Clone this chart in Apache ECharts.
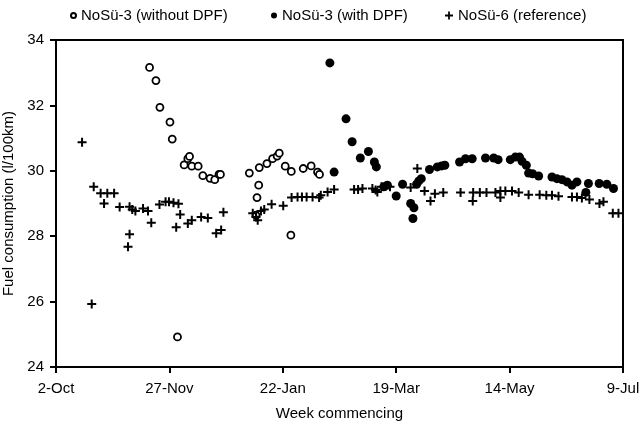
<!DOCTYPE html>
<html lang="en">
<head>
<meta charset="UTF-8">
<title>Fuel consumption</title>
<style>
  * { margin: 0; padding: 0; }
  body { background: #fff; }
  #main { width: 640px; height: 426px; }
</style>
</head>
<body>
<div id="main"></div>
<script src="https://cdn.jsdelivr.net/npm/echarts@6/dist/echarts.min.js"></script>
<script>
// x = weeks after 2-Oct, y = l/100km
var xLabels = ['2-Oct', '27-Nov', '22-Jan', '19-Mar', '14-May', '9-Jul'];

var withoutDpf = [
  [6.6, 33.16], [7.05, 32.76], [7.33, 31.94], [8.04, 31.49], [8.2, 30.97], [8.57, 24.92],
  [9.04, 30.18], [9.3, 30.37], [9.42, 30.44], [9.58, 30.14], [10.03, 30.14], [10.36, 29.85],
  [10.87, 29.77], [11.2, 29.73], [11.5, 29.89], [11.6, 29.89], [13.64, 29.93], [14.11, 28.64],
  [14.18, 29.18], [14.3, 29.56], [14.34, 30.1], [14.88, 30.22], [15.28, 30.37], [15.6, 30.45],
  [15.75, 30.54], [16.17, 30.14], [16.57, 28.03], [16.6, 29.98], [17.44, 30.07], [18.0, 30.15],
  [18.45, 29.96], [18.59, 29.89]
];

var withDpf = [
  [19.32, 33.3], [19.62, 29.96], [20.46, 31.59], [20.89, 30.89], [21.47, 30.39], [22.04, 30.59],
  [22.46, 30.27], [22.6, 30.12], [23.12, 29.51], [23.38, 29.56], [24.0, 29.23], [24.45, 29.59],
  [25.02, 29.0], [25.18, 28.54], [25.25, 28.87], [25.44, 29.59], [25.6, 29.69], [25.77, 29.76],
  [26.35, 30.04], [26.9, 30.12], [27.2, 30.15], [27.43, 30.17], [28.47, 30.27], [28.89, 30.37],
  [29.36, 30.37], [30.3, 30.39], [30.88, 30.39], [31.19, 30.34], [32.05, 30.34], [32.4, 30.42],
  [32.7, 30.42], [32.88, 30.29], [33.18, 30.17], [33.34, 29.93], [33.62, 29.91], [34.05, 29.84],
  [34.99, 29.81], [35.34, 29.76], [35.69, 29.73], [36.05, 29.66], [36.4, 29.56], [36.75, 29.66],
  [37.38, 29.34], [37.56, 29.61], [38.32, 29.61], [38.86, 29.59], [39.33, 29.46]
];

var reference = [
  [1.84, 30.87], [2.52, 25.93], [2.66, 29.51], [3.15, 29.31], [3.39, 29.0], [3.62, 29.31],
  [4.1, 29.31], [4.49, 28.89], [5.08, 27.68], [5.19, 28.06], [5.19, 28.9], [5.38, 28.82],
  [5.6, 28.77], [6.14, 28.85], [6.49, 28.77], [6.72, 28.41], [7.3, 28.97], [7.73, 29.05],
  [7.97, 29.05], [8.29, 29.02], [8.48, 28.27], [8.64, 28.99], [8.76, 28.66], [9.3, 28.39],
  [9.58, 28.49], [10.24, 28.59], [10.71, 28.56], [11.3, 28.09], [11.65, 28.19], [11.81, 28.73],
  [13.88, 28.7], [14.11, 28.59], [14.23, 28.49], [14.46, 28.77], [14.69, 28.82], [15.21, 28.98],
  [16.03, 28.93], [16.62, 29.18], [17.04, 29.2], [17.35, 29.2], [17.68, 29.2], [18.1, 29.2],
  [18.56, 29.18], [18.68, 29.25], [19.16, 29.35], [19.62, 29.43], [21.03, 29.43], [21.31, 29.43],
  [21.62, 29.46], [22.32, 29.46], [22.55, 29.41], [22.67, 29.35], [22.96, 29.51], [23.26, 29.53],
  [23.56, 29.51], [25.02, 29.49], [25.49, 30.07], [26.0, 29.38], [26.42, 29.08], [26.73, 29.3],
  [27.32, 29.34], [28.54, 29.34], [29.4, 29.08], [29.43, 29.34], [29.9, 29.34], [30.37, 29.34],
  [31.0, 29.34], [31.35, 29.38], [31.35, 29.18], [31.7, 29.38], [32.17, 29.38], [32.64, 29.34],
  [33.34, 29.27], [34.12, 29.27], [34.59, 29.25], [34.99, 29.25], [35.45, 29.22], [36.4, 29.2],
  [36.75, 29.2], [37.1, 29.17], [37.63, 29.12], [38.34, 29.0], [38.62, 29.05], [39.28, 28.7],
  [39.68, 28.7]
];

var font = 'Liberation Sans';
var plus = 'path://M3.5,0h2v3.5h3.5v2h-3.5v3.5h-2v-3.5h-3.5v-2h3.5z';

function legend(name, left, icon, size) {
  return {
    data: [{ name: name, icon: icon }],
    left: left, top: 3,
    itemWidth: size, itemHeight: size, itemGap: 4,
    textStyle: { fontFamily: font, fontSize: 15, color: '#000' }
  };
}

var chart = echarts.init(document.getElementById('main'));
chart.setOption({
  animation: false,
  legend: [
    legend('NoSü-3 (without DPF)', 65, 'circle', 5),
    legend('NoSü-3 (with DPF)', 266, 'circle', 6),
    legend('NoSü-6 (reference)', 440, plus, 8)
  ],
  grid: {
    left: 56, right: 17, top: 40, bottom: 59,
    containLabel: false, outerBoundsMode: 'none',
    show: true, borderColor: '#000', borderWidth: 2
  },
  xAxis: {
    type: 'value', min: 0, max: 40, interval: 8,
    name: 'Week commencing', nameLocation: 'middle', nameGap: 39,
    nameTextStyle: { fontFamily: font, fontSize: 15, color: '#000' },
    axisLine: { lineStyle: { color: '#000', width: 2 } },
    axisTick: { length: 6, lineStyle: { color: '#000', width: 2 } },
    axisLabel: {
      fontFamily: font, fontSize: 15, color: '#000', margin: 14,
      formatter: function (v) { return xLabels[v / 8]; }
    },
    splitLine: { show: false }
  },
  yAxis: {
    type: 'value', min: 24, max: 34, interval: 2,
    name: 'Fuel consumption (l/100km)', nameLocation: 'middle', nameGap: 38,
    nameTextStyle: { fontFamily: font, fontSize: 15, color: '#000' },
    axisLine: { show: true, lineStyle: { color: '#000', width: 2 } },
    axisTick: { show: true, length: 6, lineStyle: { color: '#000', width: 2 } },
    axisLabel: { fontFamily: font, fontSize: 15, color: '#000', margin: 12 },
    splitLine: { show: false }
  },
  series: [
    {
      name: 'NoSü-3 (without DPF)', type: 'scatter', data: withoutDpf,
      symbol: 'circle', symbolSize: 7,
      itemStyle: { color: '#fff', borderColor: '#000', borderWidth: 1.8, opacity: 1 }
    },
    {
      name: 'NoSü-3 (with DPF)', type: 'scatter', data: withDpf,
      symbol: 'circle', symbolSize: 9,
      itemStyle: { color: '#000', opacity: 1 }
    },
    {
      name: 'NoSü-6 (reference)', type: 'scatter', data: reference,
      symbol: plus, symbolSize: 9,
      itemStyle: { color: '#000', opacity: 1 }
    }
  ]
});
</script>
</body>
</html>
